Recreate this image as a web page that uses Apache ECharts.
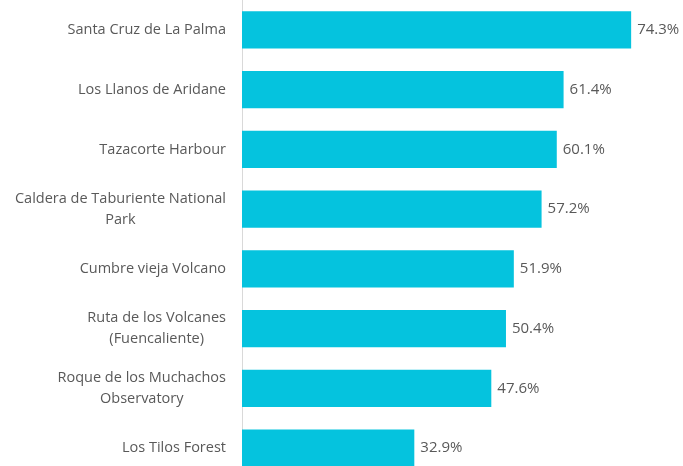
<!DOCTYPE html>
<html>
  <head>
    <meta charset="utf-8" />
    <title>La Palma places</title>
    <script src="https://cdn.jsdelivr.net/npm/echarts@6/dist/echarts.min.js"></script>
  </head>
  <body style="margin:0;background:#fff;overflow:hidden;">
    <!-- the chart runs a little past the bottom edge, as in the original -->
    <div id="chart" style="width:683px;height:478px;"></div>
    <script type="text/javascript">
      // categories, top to bottom
      var places = [
        'Santa Cruz de La Palma',
        'Los Llanos de Aridane',
        'Tazacorte Harbour',
        'Caldera de Taburiente National\nPark',
        'Cumbre vieja Volcano',
        'Ruta de los Volcanes\n(Fuencaliente)',
        'Roque de los Muchachos\nObservatory',
        'Los Tilos Forest'
      ];
      var shares = [74.3, 61.4, 60.1, 57.2, 51.9, 50.4, 47.6, 32.9];

      var chart = echarts.init(document.getElementById('chart'));
      chart.setOption({
        animation: false,
        grid: { left: 242, top: 0, width: 419, bottom: 0, containLabel: false },
        xAxis: { type: 'value', min: 0, max: 80, show: false },
        yAxis: {
          type: 'category',
          inverse: true,
          data: places,
          axisTick: { show: false },
          axisLine: { show: true, lineStyle: { color: '#d9d9d9', width: 1 } },
          axisLabel: {
            margin: 16,
            align: 'right',
            color: '#595959',
            fontFamily: 'Open Sans',
            fontSize: 14.5,
            lineHeight: 21,
            formatter: function (v) {
              return v.split('\n').map(function (s) { return '{c|' + s + '}'; }).join('\n');
            },
            rich: { c: { align: 'center', color: '#595959', fontFamily: 'Open Sans', fontSize: 14.5, lineHeight: 21 } }
          }
        },
        series: [{
          type: 'bar',
          data: shares,
          barCategoryGap: '38%',
          itemStyle: { color: '#05C3DE' },
          label: {
            show: true,
            position: 'right',
            distance: 6,
            color: '#595959',
            fontFamily: 'Open Sans',
            fontSize: 15,
            formatter: function (p) { return p.value.toFixed(1) + '%'; }
          }
        }]
      });
    </script>
  </body>
</html>
